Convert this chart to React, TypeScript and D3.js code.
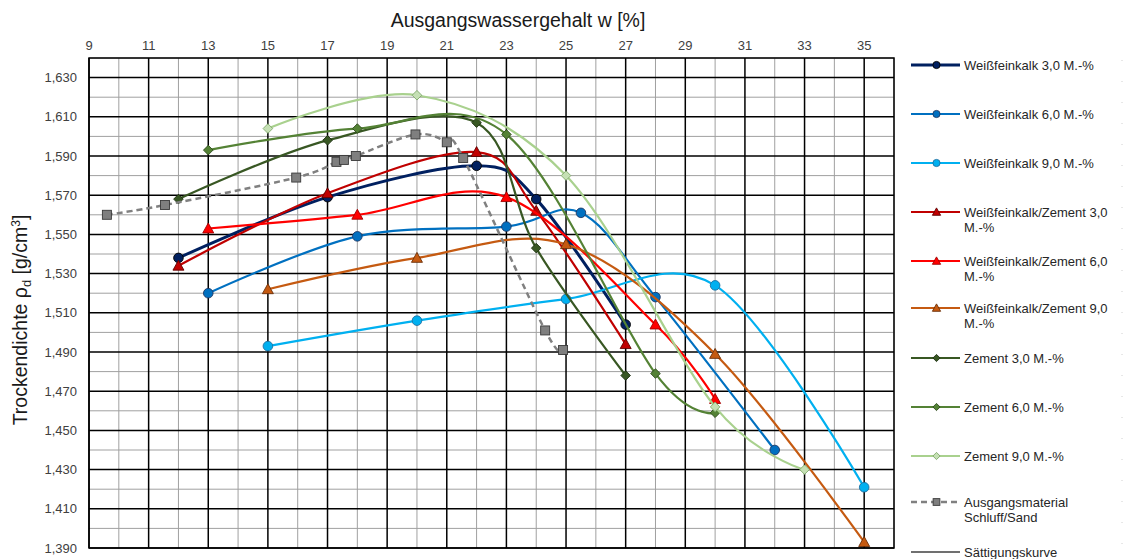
import React from "react";
import * as d3 from "d3";

// ---- Data ----
const xTicks = [9, 11, 13, 15, 17, 19, 21, 23, 25, 27, 29, 31, 33, 35];
const yTicks = [1.39, 1.41, 1.43, 1.45, 1.47, 1.49, 1.51, 1.53, 1.55, 1.57, 1.59, 1.61, 1.63];

const wfk3: [number, number][] = [[12, 1.538], [17, 1.569], [22, 1.585], [24, 1.568], [27, 1.504]];
const wfk6: [number, number][] = [[13, 1.52], [18, 1.549], [23, 1.554], [25.5, 1.561], [28, 1.518], [32, 1.44]];
const wfk9: [number, number][] = [[15, 1.493], [20, 1.506], [25, 1.517], [30, 1.524], [35, 1.421]];
const wfkz3: [number, number][] = [[12, 1.534], [17, 1.571], [22, 1.592], [24, 1.562], [27, 1.494]];
const wfkz6: [number, number][] = [[13, 1.553], [18, 1.56], [23, 1.569], [28, 1.504], [30, 1.466]];
const wfkz9: [number, number][] = [[15, 1.522], [20, 1.538], [25, 1.545], [30, 1.489], [35, 1.393]];
const zem3: [number, number][] = [[12, 1.568], [17, 1.598], [22, 1.607], [24, 1.543], [27, 1.478]];
const zem6: [number, number][] = [[13, 1.593], [18, 1.604], [23, 1.601], [28, 1.479], [30, 1.459]];
const zem9: [number, number][] = [[15, 1.604], [20, 1.621], [25, 1.58], [30, 1.462], [33, 1.43]];
const ausgang: [number, number][] = [
  [9.6, 1.56], [11.55, 1.565], [15.95, 1.579], [17.3, 1.587], [17.55, 1.588], [17.95, 1.59],
  [19.95, 1.601], [21.0, 1.597], [21.55, 1.589], [24.3, 1.501], [24.9, 1.491],
];

type Shape = "circle" | "triangle" | "diamond" | "square" | "none";
interface Series {
  name: string[];
  data: [number, number][];
  color: string;
  fill: string;
  stroke: string;
  shape: Shape;
  dash?: string;
  width: number;
}

const series: Series[] = [
  { name: ["Weißfeinkalk 3,0 M.-%"], data: wfk3, color: "#002060", fill: "#002060", stroke: "#000000", shape: "circle", width: 3 },
  { name: ["Weißfeinkalk 6,0 M.-%"], data: wfk6, color: "#0070C0", fill: "#0070C0", stroke: "#1F3864", shape: "circle", width: 2.2 },
  { name: ["Weißfeinkalk 9,0 M.-%"], data: wfk9, color: "#00B0F0", fill: "#00B0F0", stroke: "#1F6FA0", shape: "circle", width: 2.2 },
  { name: ["Weißfeinkalk/Zement 3,0", "M.-%"], data: wfkz3, color: "#C00000", fill: "#C00000", stroke: "#600000", shape: "triangle", width: 2.2 },
  { name: ["Weißfeinkalk/Zement 6,0", "M.-%"], data: wfkz6, color: "#FF0000", fill: "#FF0000", stroke: "#A00000", shape: "triangle", width: 2.2 },
  { name: ["Weißfeinkalk/Zement 9,0", "M.-%"], data: wfkz9, color: "#C55A11", fill: "#C55A11", stroke: "#6B2F08", shape: "triangle", width: 2.2 },
  { name: ["Zement 3,0 M.-%"], data: zem3, color: "#385723", fill: "#385723", stroke: "#1E3012", shape: "diamond", width: 2.2 },
  { name: ["Zement 6,0 M.-%"], data: zem6, color: "#548235", fill: "#548235", stroke: "#2E4A1C", shape: "diamond", width: 2.2 },
  { name: ["Zement 9,0 M.-%"], data: zem9, color: "#A9D18E", fill: "#C5E0B4", stroke: "#7FA86A", shape: "diamond", width: 2.2 },
  { name: ["Ausgangsmaterial", "Schluff/Sand"], data: ausgang, color: "#808080", fill: "#7F7F7F", stroke: "#3A3A3A", shape: "square", dash: "6,4", width: 2.5 },
  { name: ["Sättigungskurve"], data: [], color: "#404040", fill: "none", stroke: "none", shape: "none", width: 1.5 },
];

// ---- Layout ----
const W = 1127;
const H = 559;
const left = 89;
const right = 894;
const top = 58;
const bottom = 548;

const x = d3.scaleLinear().domain([9, 36]).range([left, right]);
const y = d3.scaleLinear().domain([1.39, 1.64]).range([bottom, top]);

const fmt = (v: number) => v.toFixed(3).replace(".", ",");

function Marker({ shape, cx, cy, fill, stroke, k = 1 }: { shape: Shape; cx: number; cy: number; fill: string; stroke: string; k?: number }) {
  if (shape === "circle") return <circle cx={cx} cy={cy} r={4.8 * k} fill={fill} stroke={stroke} strokeWidth={0.9} />;
  if (shape === "triangle") {
    const s = 5.5 * k;
    return (
      <path
        d={`M${cx},${cy - s} L${cx + s},${cy + s * 0.8} L${cx - s},${cy + s * 0.8} Z`}
        fill={fill}
        stroke={stroke}
        strokeWidth={0.9}
      />
    );
  }
  if (shape === "diamond") {
    const s = 4.8 * k;
    return (
      <path
        d={`M${cx},${cy - s} L${cx + s},${cy} L${cx},${cy + s} L${cx - s},${cy} Z`}
        fill={fill}
        stroke={stroke}
        strokeWidth={0.9}
      />
    );
  }
  if (shape === "square") {
    const s = 4.5 * k;
    return <rect x={cx - s} y={cy - s} width={2 * s} height={2 * s} fill={fill} stroke={stroke} strokeWidth={0.9} />;
  }
  return null;
}

export default function App() {
  const line = d3
    .line<[number, number]>()
    .x((d) => x(d[0]))
    .y((d) => y(d[1]))
    .curve(d3.curveCardinal.tension(0));

  const minorX = d3.range(10, 37, 2);
  const minorY = d3.range(1.40, 1.645, 0.02);

  const legendX1 = 911;
  const legendX2 = 960;
  const legendTextX = 964;
  const legendY = [65, 114, 163, 212, 261, 308, 358, 407, 456, 502, 552];

  const font = "'Liberation Sans', Arial, sans-serif";

  return (
    <svg width={W} height={H} style={{ position: "absolute", left: 0, top: 0, background: "#fff" }} fontFamily={font}>
      {/* grid minor */}
      <g stroke="#a0a0a0" strokeWidth={1}>
        {minorX.map((v) => (
          <line key={"mx" + v} x1={x(v)} x2={x(v)} y1={top} y2={bottom} />
        ))}
        {minorY.map((v) => (
          <line key={"my" + v} x1={left} x2={right} y1={y(v)} y2={y(v)} />
        ))}
      </g>
      {/* grid major */}
      <g stroke="#000" strokeWidth={1.5}>
        {xTicks.map((v) => (
          <line key={"Mx" + v} x1={x(v)} x2={x(v)} y1={top} y2={bottom} />
        ))}
        {yTicks.map((v) => (
          <line key={"My" + v} x1={left} x2={right} y1={y(v)} y2={y(v)} />
        ))}
      </g>
      <rect x={left} y={top} width={right - left} height={bottom - top} fill="none" stroke="#000" strokeWidth={1.5} />

      {/* tick labels */}
      <g fontSize={13} fill="#404040">
        {xTicks.map((v) => (
          <text key={"tx" + v} x={x(v)} y={50} textAnchor="middle">
            {v}
          </text>
        ))}
        {yTicks.map((v) => (
          <text key={"ty" + v} x={77} y={y(v) + 4.5} textAnchor="end">
            {fmt(v)}
          </text>
        ))}
      </g>

      {/* axis titles */}
      <text x={518} y={27} fontSize={19.5} fill="#1a1a1a" textAnchor="middle">
        Ausgangswassergehalt w [%]
      </text>
      <text transform={`translate(27,320) rotate(-90)`} fontSize={19.5} fill="#1a1a1a" textAnchor="middle">
        Trockendichte ρ<tspan fontSize={13} dy={4}>d</tspan>
        <tspan dy={-4}> [g/cm</tspan>
        <tspan fontSize={12} dy={-7}>3</tspan>
        <tspan dy={7}>]</tspan>
      </text>

      {/* series */}
      {series.map((s, i) =>
        s.data.length ? (
          <g key={"s" + i}>
            <path d={line(s.data) || ""} fill="none" stroke={s.color} strokeWidth={s.width} strokeDasharray={s.dash} />
            {s.data.map((d, j) => (
              <Marker key={j} shape={s.shape} cx={x(d[0])} cy={y(d[1])} fill={s.fill} stroke={s.stroke} />
            ))}
          </g>
        ) : null
      )}

      {/* legend */}
      <line x1={1122} x2={1122} y1={60} y2={559} stroke="#d0d0d0" strokeDasharray="1,20" />
      {series.map((s, i) => {
        const ly = legendY[i];
        return (
          <g key={"l" + i}>
            <line x1={legendX1} x2={legendX2} y1={ly} y2={ly} stroke={s.color} strokeWidth={s.width} strokeDasharray={s.dash} />
            <Marker shape={s.shape} cx={(legendX1 + legendX2) / 2 + 1} cy={ly} fill={s.fill} stroke={s.stroke} k={0.75} />
            {s.name.map((t, k) => (
              <text key={k} x={legendTextX} y={ly + 4.5 + k * 15} fontSize={13} fill="#262626">
                {t}
              </text>
            ))}
          </g>
        );
      })}
    </svg>
  );
}
